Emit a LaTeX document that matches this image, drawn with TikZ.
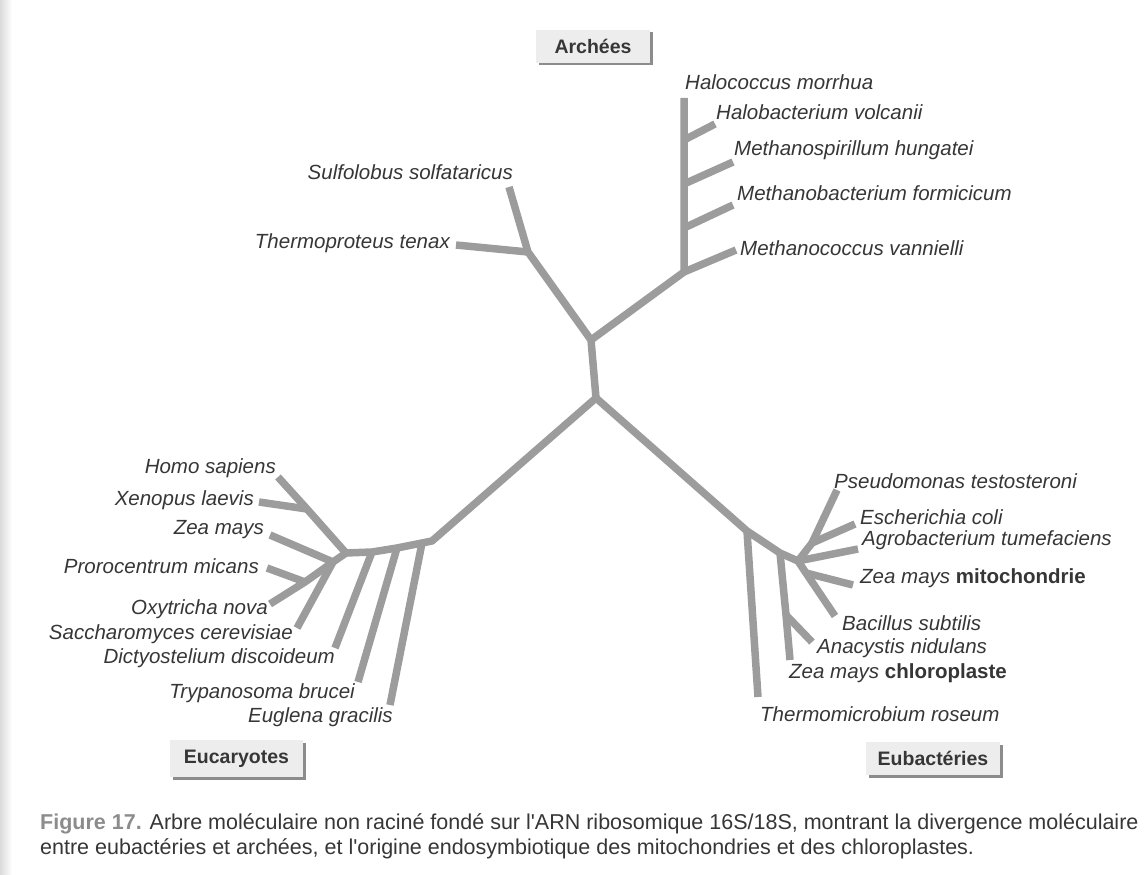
\documentclass[tikz,border=0pt]{standalone}
\usepackage{fontspec}
\setmainfont{Liberation Sans}
\newfontfamily\capfont{Liberation Sans}
\usetikzlibrary{shadows}

\definecolor{treegray}{HTML}{9C9C9C}
\definecolor{inkgray}{HTML}{363636}
\definecolor{boxgray}{HTML}{EDEDED}
\definecolor{figgray}{HTML}{8C8C8C}

\begin{document}
\begin{tikzpicture}[x = 1pt, y = -1pt,
	branch/.style = {line width = 7.5pt, treegray, line join = round},
	taxon/.style = {inner sep = 0pt, text = inkgray, font = \fontsize{20.5}{23}\selectfont\itshape},
	domainbox/.style = {inner sep = 0pt, fill = boxgray, text = inkgray,
		font = \fontsize{19.5}{22}\selectfont\bfseries,
		drop shadow = {shadow xshift = 2.5pt, shadow yshift = -2.5pt, fill = black!45, opacity = 1}}]

	% Definitions

	\def\W{1144}	% picture width
	\def\H{875}		% picture height

	\useasboundingbox (0, 0) rectangle (\W, \H);
	\shade [left color = black!14, right color = white] (0, 0) rectangle (12, \H);

	% Inner nodes of the tree

	\coordinate (archJ) at (591, 340);
	\coordinate (split) at (596, 398);
	\coordinate (crenJ) at (528, 252);
	\coordinate (euryJ) at (684, 272);
	\coordinate (stalk) at (684, 98);
	\coordinate (haloJ) at (684, 140);
	\coordinate (spirJ) at (684, 184);
	\coordinate (formJ) at (684, 228);

	\coordinate (eukJ) at (432, 541);
	\coordinate (euk1) at (422, 543);
	\coordinate (euk2) at (397, 548);
	\coordinate (euk3) at (372, 552);
	\coordinate (euk4) at (346, 553);
	\coordinate (homoJ) at (307, 509);
	\coordinate (crownJ) at (333, 562);
	\coordinate (protJ) at (305, 582);

	\coordinate (bactJ) at (747, 531);
	\coordinate (chlJ) at (780, 553);
	\coordinate (anaJ) at (786, 615);
	\coordinate (proteoJ) at (798, 561);
	\coordinate (pseudJ) at (812, 543);
	\coordinate (bacJ) at (806, 573);

	% Leaves

	\coordinate (sulfo) at (509, 187);
	\coordinate (thermop) at (456, 245);
	\coordinate (halobT) at (715, 124);
	\coordinate (spirT) at (733, 162);
	\coordinate (formT) at (733, 205);
	\coordinate (vannT) at (736, 250);

	\coordinate (homo) at (278, 477);
	\coordinate (xeno) at (259, 502);
	\coordinate (zea) at (270, 535);
	\coordinate (proro) at (267, 568);
	\coordinate (oxy) at (270, 604);
	\coordinate (sacch) at (297, 628);
	\coordinate (dicty) at (335, 648);
	\coordinate (trypa) at (358, 682);
	\coordinate (eugl) at (390, 705);

	\coordinate (pseudo) at (837, 490);
	\coordinate (escher) at (855, 524);
	\coordinate (agro) at (858, 549);
	\coordinate (zeamit) at (853, 585);
	\coordinate (bacil) at (835, 616);
	\coordinate (anacy) at (812, 642);
	\coordinate (zeachl) at (790, 660);
	\coordinate (thermom) at (758, 697);

	% Branches

	\draw [branch] (sulfo) -- (crenJ) -- (archJ) -- (split) -- (eukJ) -- (euk1) -- (euk2) -- (euk3) -- (euk4) -- (homoJ) -- (homo);
	\draw [branch] (thermop) -- (crenJ);
	\draw [branch] (archJ) -- (euryJ) -- (stalk);
	\draw [branch] (euryJ) -- (vannT);
	\draw [branch] (haloJ) -- (halobT);
	\draw [branch] (spirJ) -- (spirT);
	\draw [branch] (formJ) -- (formT);

	\draw [branch] (euk1) -- (eugl);
	\draw [branch] (euk2) -- (trypa);
	\draw [branch] (euk3) -- (dicty);
	\draw [branch] (xeno) -- (homoJ);
	\draw [branch] (euk4) -- (crownJ) -- (sacch);
	\draw [branch] (crownJ) -- (zea);
	\draw [branch] (crownJ) -- (protJ) -- (oxy);
	\draw [branch] (protJ) -- (proro);

	\draw [branch] (split) -- (bactJ) -- (chlJ) -- (proteoJ) -- (bacJ) -- (bacil);
	\draw [branch] (bactJ) -- (thermom);
	\draw [branch] (chlJ) -- (anaJ) -- (zeachl);
	\draw [branch] (anaJ) -- (anacy);
	\draw [branch] (proteoJ) -- (pseudJ) -- (pseudo);
	\draw [branch] (pseudJ) -- (escher);
	\draw [branch] (proteoJ) -- (agro);
	\draw [branch] (bacJ) -- (zeamit);

	% Species names

	\node (halococ) [taxon, anchor = west] at (685, 82) {Halococcus morrhua};
	\node (halobac) [taxon, anchor = west] at (716, 112) {Halobacterium volcanii};
	\node (methspir) [taxon, anchor = west] at (734, 150) {Methanospirillum hungatei};
	\node (methbac) [taxon, anchor = west] at (737, 193) {Methanobacterium formicicum};
	\node (methcoc) [taxon, anchor = west] at (740, 248) {Methanococcus vannielli};
	\node (sulfolbl) [taxon, anchor = east] at (513, 172) {Sulfolobus solfataricus};
	\node (thermolbl) [taxon, anchor = east] at (450, 243) {Thermoproteus tenax};

	\node (homolbl) [taxon, anchor = east] at (276, 468) {Homo sapiens};
	\node (xenolbl) [taxon, anchor = east] at (254, 500) {Xenopus laevis};
	\node (zealbl) [taxon, anchor = east] at (264, 530) {Zea mays};
	\node (prorolbl) [taxon, anchor = east] at (259, 566) {Prorocentrum micans};
	\node (oxylbl) [taxon, anchor = east] at (268, 609) {Oxytricha nova};
	\node (sacchlbl) [taxon, anchor = east] at (293, 634) {Saccharomyces cerevisiae};
	\node (dictylbl) [taxon, anchor = east] at (335, 658) {Dictyostelium discoideum};
	\node (trypalbl) [taxon, anchor = east] at (355, 693) {Trypanosoma brucei};
	\node (eugllbl) [taxon, anchor = east] at (393, 717) {Euglena gracilis};

	\node (pseudolbl) [taxon, anchor = west] at (834, 481) {Pseudomonas testosteroni};
	\node (escherlbl) [taxon, anchor = west] at (860, 517) {Escherichia coli};
	\node (agrolbl) [taxon, anchor = west] at (862, 540) {Agrobacterium tumefaciens};
	\node (zeamitlbl) [taxon, anchor = west] at (860, 578) {Zea mays {\upshape\bfseries mitochondrie}};
	\node (bacillbl) [taxon, anchor = west] at (842, 623) {Bacillus subtilis};
	\node (anacylbl) [taxon, anchor = west] at (817, 648) {Anacystis nidulans};
	\node (zeachllbl) [taxon, anchor = west] at (789, 673) {Zea mays {\upshape\bfseries chloroplaste}};
	\node (thermomlbl) [taxon, anchor = west] at (760, 714) {Thermomicrobium roseum};

	% Domains

	\node (archees) [domainbox, minimum width = 114pt, minimum height = 33pt] at (593, 46.5) {Archées};
	\node (eucaryotes) [domainbox, minimum width = 133pt, minimum height = 37pt] at (236.5, 758.5) {Eucaryotes};
	\node (eubacteries) [domainbox, minimum width = 134pt, minimum height = 33pt] at (933, 758.5) {Eubactéries};

	% Caption

	\node (caption) [anchor = north west, align = left, inner sep = 0pt, text = inkgray,
		font = \capfont\fontsize{21.5}{25}\selectfont] at (40, 813)
		{{\color{figgray}\bfseries Figure 17.} Arbre moléculaire non raciné fondé sur l'ARN ribosomique 16S/18S, montrant la divergence moléculaire\\
		entre eubactéries et archées, et l'origine endosymbiotique des mitochondries et des chloroplastes.};

\end{tikzpicture}
\end{document}
